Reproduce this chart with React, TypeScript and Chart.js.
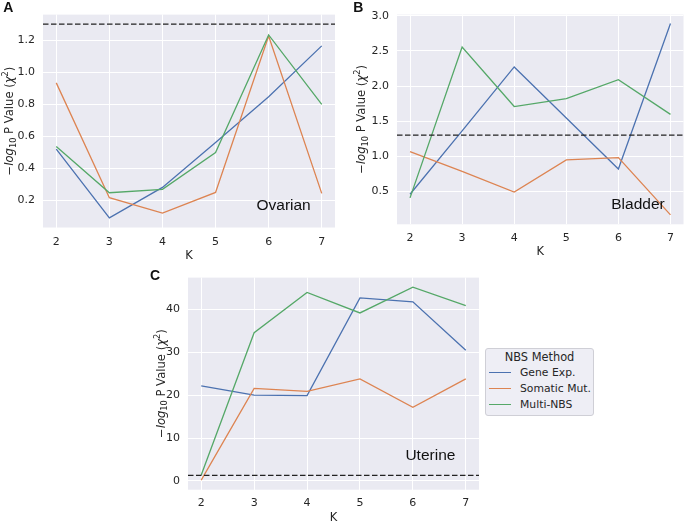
"use client"

import { useEffect, useRef } from "react"
import { Chart, registerables } from "chart.js"

// Register Chart.js components
Chart.register(...registerables)

// Number of clusters K on the x axis
const kValues = [2, 3, 4, 5, 6, 7]

const methodNames = ["Gene Exp.", "Somatic Mut.", "Multi-NBS"]
const methodColors = ["#4C72B0", "#DD8452", "#55A868"]

// Panel A: Ovarian
const ovarianGeneExp = [0.521, 0.092, 0.282, 0.562, 0.848, 1.165]
const ovarianSomatic = [0.934, 0.218, 0.122, 0.251, 1.227, 0.245]
const ovarianMultiNbs = [0.537, 0.249, 0.27, 0.5, 1.233, 0.8]

// Panel B: Bladder
const bladderGeneExp = [0.458, 1.36, 2.272, 1.545, 0.817, 2.89]
const bladderSomatic = [1.064, 0.785, 0.49, 0.948, 0.98, 0.164]
const bladderMultiNbs = [0.407, 2.557, 1.708, 1.82, 2.09, 1.596]

// Panel C: Uterine
const uterineGeneExp = [22.2, 20.0, 19.9, 42.7, 41.8, 30.5]
const uterineSomatic = [0.2, 21.6, 20.9, 23.8, 17.2, 23.8]
const uterineMultiNbs = [1.4, 34.6, 44.0, 39.2, 45.2, 40.9]

// -log10(0.05)
const significanceLine = 1.3

const textColor = "#262626"
const plotBackground = "#EAEAF2"

interface Box {
  left: number
  top: number
  width: number
  height: number
}

interface PanelProps {
  series: number[][]
  yMin: number
  yMax: number
  yStep: number
  yDecimals: number
  name: string
  namePos: [number, number]
  box: Box
  yAxisWidth: number
  xAxisHeight: number
  padTop: number
  padRight: number
  xTickPad: number
  xTitlePad: number
  yTitleX: number
}

// -log10 P Value (chi^2) with italic log, subscript 10 and superscript 2
function drawYTitle(ctx: CanvasRenderingContext2D, x: number, y: number) {
  const size = 11.6
  const small = 8.2
  const fam = "'DejaVu Sans'"
  const normal = `${size}px ${fam}`
  const italic = `italic ${size}px ${fam}`
  const smallFont = `${small}px ${fam}`
  const runs = [
    { text: "\u2212", font: normal, dy: 0 },
    { text: "log", font: italic, dy: 0 },
    { text: "10", font: smallFont, dy: 2.8 },
    { text: " P Value (", font: normal, dy: 0 },
    { text: "\u03C7", font: italic, dy: 0 },
    { text: "2", font: smallFont, dy: -4.8 },
    { text: ")", font: normal, dy: 0 },
  ]
  ctx.save()
  ctx.translate(x, y)
  ctx.rotate(-Math.PI / 2)
  ctx.fillStyle = textColor
  ctx.textAlign = "left"
  ctx.textBaseline = "alphabetic"
  const widths = runs.map((r) => {
    ctx.font = r.font
    return ctx.measureText(r.text).width
  })
  const total = widths.reduce((a, b) => a + b, 0)
  let cx = -total / 2
  runs.forEach((r, i) => {
    ctx.font = r.font
    ctx.fillText(r.text, cx, size * 0.36 + r.dy)
    cx += widths[i]
  })
  ctx.restore()
}

function Panel(props: PanelProps) {
  const chartRef = useRef<HTMLCanvasElement>(null)
  const chartInstance = useRef<Chart | null>(null)

  useEffect(() => {
    if (!chartRef.current) return
    if (chartInstance.current) chartInstance.current.destroy()

    const decor = {
      id: "panelDecor",
      beforeDraw(chart: Chart) {
        const { ctx, chartArea } = chart
        ctx.save()
        ctx.fillStyle = plotBackground
        ctx.fillRect(chartArea.left, chartArea.top, chartArea.right - chartArea.left, chartArea.bottom - chartArea.top)
        ctx.restore()
      },
      afterDatasetsDraw(chart: Chart) {
        const { ctx, chartArea } = chart
        const yPix = chart.scales.y.getPixelForValue(significanceLine)
        ctx.save()
        ctx.strokeStyle = "#222222"
        ctx.lineWidth = 1.3
        ctx.setLineDash([5.5, 2.5])
        ctx.beginPath()
        ctx.moveTo(chartArea.left, yPix)
        ctx.lineTo(chartArea.right, yPix)
        ctx.stroke()
        ctx.setLineDash([])

        // panel name
        ctx.fillStyle = "#111111"
        ctx.font = "15.5px 'Liberation Sans'"
        ctx.textAlign = "center"
        ctx.textBaseline = "middle"
        const w = chartArea.right - chartArea.left
        const h = chartArea.bottom - chartArea.top
        ctx.fillText(props.name, chartArea.left + props.namePos[0] * w, chartArea.top + props.namePos[1] * h)
        ctx.restore()

        drawYTitle(ctx, props.yTitleX, (chartArea.top + chartArea.bottom) / 2)
      },
    }

    const ctx = chartRef.current.getContext("2d")
    if (ctx) {
      chartInstance.current = new Chart(ctx, {
        type: "line",
        data: {
          datasets: props.series.map((values, i) => ({
            label: methodNames[i],
            data: kValues.map((k, j) => ({ x: k, y: values[j] })),
            borderColor: methodColors[i],
            backgroundColor: methodColors[i],
            borderWidth: 1.3,
            pointRadius: 0,
            tension: 0,
            order: props.series.length - i,
          })),
        },
        options: {
          animation: false,
          responsive: true,
          maintainAspectRatio: false,
          layout: { padding: { top: props.padTop, right: props.padRight, left: 0, bottom: 0 } },
          plugins: {
            legend: { display: false },
            tooltip: { enabled: false },
          },
          scales: {
            x: {
              type: "linear",
              min: 1.75,
              max: 7.25,
              afterFit: (scale) => {
                scale.height = props.xAxisHeight
              },
              ticks: {
                stepSize: 1,
                includeBounds: false,
                padding: props.xTickPad,
                color: textColor,
                font: { family: "'DejaVu Sans'", size: 11 },
                callback: (v) => String(v),
              },
              grid: { color: "#ffffff", lineWidth: 1, drawTicks: false },
              border: { display: false },
              title: {
                display: true,
                text: "K",
                color: textColor,
                font: { family: "'DejaVu Sans'", size: 11.5, lineHeight: 1 },
                padding: { top: 0, bottom: props.xTitlePad },
              },
            },
            y: {
              type: "linear",
              min: props.yMin,
              max: props.yMax,
              afterFit: (scale) => {
                scale.width = props.yAxisWidth
              },
              ticks: {
                stepSize: props.yStep,
                includeBounds: false,
                padding: 8,
                color: textColor,
                font: { family: "'DejaVu Sans'", size: 11 },
                callback: (v) => Number(v).toFixed(props.yDecimals),
              },
              grid: { color: "#ffffff", lineWidth: 1, drawTicks: false },
              border: { display: false },
            },
          },
        },
        plugins: [decor],
      })
    }

    return () => {
      if (chartInstance.current) {
        chartInstance.current.destroy()
        chartInstance.current = null
      }
    }
  }, [props])

  const { box } = props
  return (
    <div style={{ position: "absolute", left: box.left, top: box.top, width: box.width, height: box.height }}>
      <canvas ref={chartRef} />
    </div>
  )
}

const panelA: PanelProps = {
  series: [ovarianGeneExp, ovarianSomatic, ovarianMultiNbs],
  yMin: 0.032,
  yMax: 1.36,
  yStep: 0.2,
  yDecimals: 1,
  name: "Ovarian",
  namePos: [0.824, 0.896],
  box: { left: 0, top: 0, width: 340, height: 262 },
  yAxisWidth: 43,
  xAxisHeight: 34.5,
  padTop: 12,
  padRight: 5,
  xTickPad: 8.2,
  xTitlePad: 0.5,
  yTitleX: 9,
}

const panelB: PanelProps = {
  series: [bladderGeneExp, bladderSomatic, bladderMultiNbs],
  yMin: 0.03,
  yMax: 3.018,
  yStep: 0.5,
  yDecimals: 1,
  name: "Bladder",
  namePos: [0.841, 0.906],
  box: { left: 340, top: 0, width: 345, height: 258 },
  yAxisWidth: 57,
  xAxisHeight: 33.7,
  padTop: 11,
  padRight: 1.5,
  xTickPad: 6.8,
  xTitlePad: 0.5,
  yTitleX: 21,
}

const panelC: PanelProps = {
  series: [uterineGeneExp, uterineSomatic, uterineMultiNbs],
  yMin: -2.05,
  yMax: 47.45,
  yStep: 10,
  yDecimals: 0,
  name: "Uterine",
  namePos: [0.833, 0.841],
  box: { left: 140, top: 263, width: 340, height: 260 },
  yAxisWidth: 48,
  xAxisHeight: 33.3,
  padTop: 10.3,
  padRight: 1,
  xTickPad: 7.3,
  xTitlePad: -1,
  yTitleX: 20.5,
}

const letterStyle = {
  position: "absolute" as const,
  fontFamily: "'Liberation Sans'",
  fontWeight: "bold" as const,
  fontSize: 14,
  lineHeight: "14px",
  color: "#111111",
}

function Legend() {
  return (
    <div
      style={{
        position: "absolute",
        left: 485,
        top: 348,
        width: 109,
        height: 68,
        boxSizing: "border-box",
        border: "1px solid #cfcfd6",
        borderRadius: 3,
        background: "#EEEEF5",
        fontFamily: "'DejaVu Sans'",
        color: textColor,
      }}
    >
      <div style={{ position: "absolute", top: 1, left: 0, width: "100%", textAlign: "center", fontSize: 11.4, lineHeight: "14px" }}>
        NBS Method
      </div>
      {methodNames.map((name, i) => (
        <div key={name} style={{ position: "absolute", left: 0, top: 17 + i * 16, height: 14, width: "100%" }}>
          <div style={{ position: "absolute", left: 3, top: 6, width: 22, height: 0, borderTop: `1.5px solid ${methodColors[i]}` }} />
          <div style={{ position: "absolute", left: 34, top: 0, fontSize: 10.8, lineHeight: "14px", whiteSpace: "nowrap" }}>
            {name}
          </div>
        </div>
      ))}
    </div>
  )
}

export default function App() {
  return (
    <div style={{ position: "absolute", left: 0, top: 0, width: 685, height: 523, overflow: "hidden", background: "#ffffff" }}>
      <Panel {...panelA} />
      <Panel {...panelB} />
      <Panel {...panelC} />
      <div style={{ ...letterStyle, left: 3.3, top: 0 }}>A</div>
      <div style={{ ...letterStyle, left: 353.3, top: 0 }}>B</div>
      <div style={{ ...letterStyle, left: 150, top: 268 }}>C</div>
      <Legend />
    </div>
  )
}
